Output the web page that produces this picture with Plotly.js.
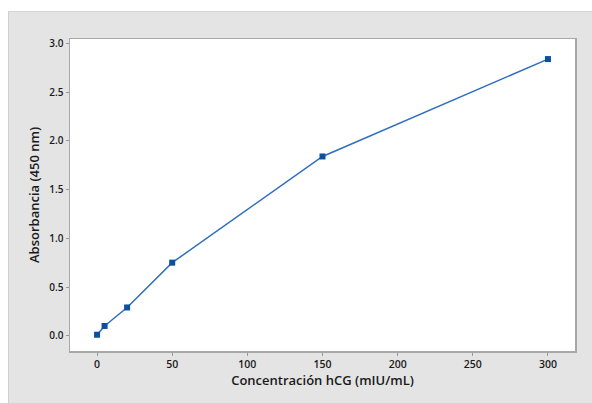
<!DOCTYPE html>
<html>
<head>
<meta charset="utf-8">
<script src="https://cdn.plot.ly/plotly-3.0.1.min.js"></script>
<style>
  html, body { margin: 0; padding: 0; background: #ffffff; width: 592px; height: 403px; overflow: hidden; }
  #panel { position: absolute; left: 8px; top: 11px; width: 584px; height: 392px; border-left: 1px solid #cfcfcf; border-top: 1px solid #d6d6d6; box-sizing: border-box; }
  #chart { width: 583px; height: 391px; }
</style>
</head>
<body>
<div id="panel"><div id="chart"></div></div>
<script>
const concentration = [0, 5, 20, 50, 150, 300];
const absorbance = [0.01, 0.10, 0.29, 0.75, 1.84, 2.84];
const xTicks = [0, 50, 100, 150, 200, 250, 300];
const yTicks = [0.0, 0.5, 1.0, 1.5, 2.0, 2.5, 3.0];
const yTickText = ["0.0", "0.5", "1.0", "1.5", "2.0", "2.5", "3.0"];

const trace = {
  x: concentration,
  y: absorbance,
  mode: 'lines+markers',
  type: 'scatter',
  line: { color: '#2f6fbd', width: 1.5 },
  marker: { symbol: 'square', size: 6, color: '#0d4f9f' },
  hoverinfo: 'none'
};

const fontFam = '"Open Sans", "Noto Sans", sans-serif';
const layout = {
  width: 583, height: 391,
  margin: { l: 61, t: 27, r: 17, b: 52 },
  paper_bgcolor: '#e4e4e4',
  plot_bgcolor: '#ffffff',
  showlegend: false,
  font: { family: fontFam, color: '#222222', size: 9 },
  xaxis: {
    range: [-18, 318],
    tickvals: xTicks,
    ticktext: xTicks.map(String),
    ticks: 'outside', ticklen: 3, tickcolor: '#999999',
    showgrid: false, zeroline: false,
    showline: true, linecolor: '#a8a8a8', linewidth: 1.5, mirror: true,
    tickfont: { size: 10.5, family: fontFam, color: '#1a1a1a', weight: 600 },
    title: { text: 'Concentración hCG (mIU/mL)', font: { size: 13, family: fontFam, color: '#1a1a1a', weight: 600 }, standoff: 6 }
  },
  yaxis: {
    range: [-0.157, 3.046],
    tickvals: yTicks,
    ticktext: yTickText,
    ticks: 'outside', ticklen: 3, tickcolor: '#999999',
    showgrid: false, zeroline: false,
    showline: true, linecolor: '#a8a8a8', linewidth: 1.5, mirror: true,
    tickfont: { size: 10, family: fontFam, color: '#1a1a1a', weight: 600 },
    title: { text: 'Absorbancia (450 nm)', font: { size: 13, family: fontFam, color: '#1a1a1a', weight: 600 }, standoff: 7 }
  }
};

Plotly.newPlot('chart', [trace], layout, { staticPlot: true, displayModeBar: false });
</script>
</body>
</html>
